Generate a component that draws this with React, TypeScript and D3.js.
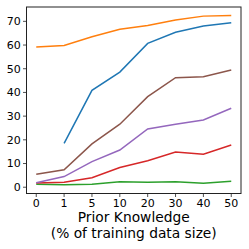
import React from "react";
import * as d3 from "d3";

const categories = ["0", "1", "5", "10", "20", "30", "40", "50"];
const orange = [59.2, 59.8, 63.5, 66.7, 68.2, 70.6, 72.2, 72.5];
const blue = [null, 18.5, 40.9, 48.6, 60.7, 65.4, 68.0, 69.4];
const brown = [5.5, 7.4, 18.3, 26.6, 38.2, 46.2, 46.6, 49.5];
const purple = [1.9, 4.5, 10.8, 15.7, 24.6, 26.6, 28.4, 33.3];
const red = [1.8, 2.1, 4.0, 8.3, 11.2, 14.9, 13.9, 17.8];
const green = [1.3, 1.0, 1.3, 2.3, 2.1, 2.3, 1.7, 2.5];
const yTicks = [0, 10, 20, 30, 40, 50, 60, 70];

const series = [
  { name: "blue", values: blue, color: "#1f77b4" },
  { name: "orange", values: orange, color: "#ff7f0e" },
  { name: "green", values: green, color: "#2ca02c" },
  { name: "red", values: red, color: "#d62728" },
  { name: "purple", values: purple, color: "#9467bd" },
  { name: "brown", values: brown, color: "#8c564b" },
];

const W = 249, H = 249;
const left = 26.5, right = 241, top = 7, bottom = 193.5;

export default function App() {
  const x = d3.scaleLinear().domain([-0.35, categories.length - 1 + 0.35]).range([left, right]);
  const y = d3.scaleLinear().domain([-2.65, 76.05]).range([bottom, top]);

  const line = d3
    .line<number | null>()
    .defined((d) => d != null)
    .x((_, i) => x(i))
    .y((d) => y(d as number));

  const font = "DejaVu Sans, sans-serif";

  return (
    <svg width={W} height={H} style={{ position: "absolute", left: 0, top: 0, background: "#fff" }}>
      {series.map((s) => (
        <path key={s.name} d={line(s.values) || ""} fill="none" stroke={s.color} strokeWidth={1.5} />
      ))}
      <rect x={left} y={top} width={right - left} height={bottom - top} fill="none" stroke="#222" strokeWidth={1} />
      {yTicks.map((t) => (
        <g key={t} transform={`translate(${left},${y(t)})`}>
          <line x1={-3.5} x2={0} stroke="#222" strokeWidth={0.8} />
          <text x={-5.8} dy="0.36em" textAnchor="end" fontSize={11} fontFamily={font} fill="#000">
            {t}
          </text>
        </g>
      ))}
      {categories.map((c, i) => (
        <g key={c} transform={`translate(${x(i)},${bottom})`}>
          <line y1={0} y2={3.5} stroke="#222" strokeWidth={0.8} />
          <text y={13.2} textAnchor="middle" fontSize={11} fontFamily={font} fill="#000">
            {c}
          </text>
        </g>
      ))}
      <text x={(left + right) / 2} y={222} textAnchor="middle" fontSize={13.8} fontFamily={font} fill="#000">
        Prior Knowledge
      </text>
      <text x={(left + right) / 2} y={237.5} textAnchor="middle" fontSize={13.8} fontFamily={font} fill="#000">
        (% of training data size)
      </text>
    </svg>
  );
}
